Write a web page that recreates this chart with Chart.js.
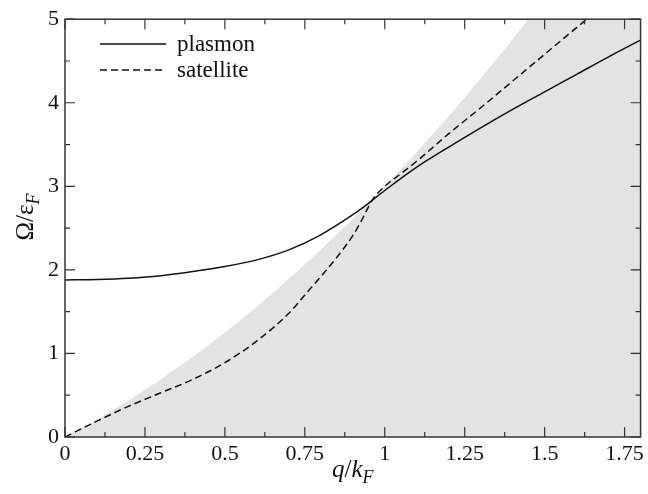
<!DOCTYPE html>
<html>
<head>
<meta charset="utf-8">
<script src="https://cdn.jsdelivr.net/npm/chart.js@4.4.1/dist/chart.umd.min.js"></script>
</head>
<body style="margin:0">
<div style="width:648px;height:494px"><canvas id="chart"></canvas></div>
<script>
// plasmon branch
var qPlasmon = [0, 0.1, 0.2, 0.3, 0.4, 0.5, 0.6, 0.7, 0.8, 0.9, 0.95, 1.0, 1.1, 1.2, 1.3, 1.4, 1.5, 1.6, 1.7, 1.8];
var plasmon  = [1.88, 1.885, 1.90, 1.93, 1.98, 2.04, 2.12, 2.24, 2.42, 2.66, 2.80, 2.95, 3.23, 3.47, 3.70, 3.92, 4.13, 4.34, 4.55, 4.75];

// satellite branch
var qSatellite = [0, 0.1, 0.2, 0.3, 0.4, 0.5, 0.6, 0.7, 0.75, 0.8, 0.85, 0.9, 0.93, 0.96, 1.0, 1.05, 1.1, 1.2, 1.3, 1.4, 1.5, 1.6, 1.7, 1.8];
var satellite  = [0, 0.19, 0.37, 0.53, 0.69, 0.89, 1.15, 1.48, 1.70, 1.92, 2.15, 2.41, 2.61, 2.83, 3.00, 3.15, 3.30, 3.63, 3.94, 4.26, 4.58, 4.90, 5.22, 5.54];

// upper edge of the shaded continuum
var qEdge = [0, 0.1, 0.2, 0.3, 0.4, 0.5, 0.6, 0.7, 0.8, 0.9, 1.0, 1.1, 1.2, 1.3, 1.4, 1.5, 1.6, 1.7, 1.8];
var edge  = [0, 0.21, 0.44, 0.69, 0.96, 1.25, 1.56, 1.89, 2.24, 2.61, 3.0, 3.41, 3.84, 4.29, 4.76, 5.25, 5.76, 6.29, 6.84];

var xTicks = [0, 0.25, 0.5, 0.75, 1, 1.25, 1.5, 1.75];
var yTicks = [0, 1, 2, 3, 4, 5];

function pts(xs, ys) {
  return xs.map(function(x, i) { return {x: x, y: ys[i]}; });
}

var serif = '"Liberation Serif", "Times New Roman", Times, serif';

var framePlugin = {
  id: 'frame',
  afterDraw: function(chart) {
    var ctx = chart.ctx;
    var a = chart.chartArea;
    var xs = chart.scales.x, ys = chart.scales.y;
    ctx.save();
    ctx.strokeStyle = '#333';
    ctx.lineWidth = 1.5;
    ctx.strokeRect(a.left, a.top, a.right - a.left, a.bottom - a.top);

    // inward ticks on all four sides
    ctx.lineWidth = 1.2;
    ctx.beginPath();
    for (var v = 0; v <= 1.8 + 1e-9; v += 0.125) {
      var px = xs.getPixelForValue(v);
      var len = (Math.abs(v / 0.25 - Math.round(v / 0.25)) < 1e-6) ? 10 : 5;
      ctx.moveTo(px, a.bottom); ctx.lineTo(px, a.bottom - len);
      ctx.moveTo(px, a.top); ctx.lineTo(px, a.top + len);
    }
    for (var w = 0; w <= 5 + 1e-9; w += 0.5) {
      var py = ys.getPixelForValue(w);
      var l2 = (Math.abs(w - Math.round(w)) < 1e-6) ? 10 : 5;
      ctx.moveTo(a.left, py); ctx.lineTo(a.left + l2, py);
      ctx.moveTo(a.right, py); ctx.lineTo(a.right - l2, py);
    }
    ctx.stroke();

    // legend
    ctx.strokeStyle = '#111';
    ctx.lineWidth = 1.5;
    ctx.beginPath();
    ctx.moveTo(100, 44); ctx.lineTo(166, 44);
    ctx.stroke();
    ctx.setLineDash([7, 4]);
    ctx.beginPath();
    ctx.moveTo(100, 70); ctx.lineTo(166, 70);
    ctx.stroke();
    ctx.setLineDash([]);
    ctx.fillStyle = '#111';
    ctx.font = '23px ' + serif;
    ctx.textAlign = 'left';
    ctx.textBaseline = 'alphabetic';
    ctx.fillText('plasmon', 177, 51);
    ctx.fillText('satellite', 177, 77);

    // x title: q/k_F
    var cx = (a.left + a.right) / 2;
    var base = 477;
    var parts = [
      ['q', 'italic 25px ' + serif, 0],
      ['/', '25px ' + serif, 0],
      ['k', 'italic 25px ' + serif, 0],
      ['F', 'italic 18px ' + serif, 6]
    ];
    var total = 0;
    parts.forEach(function(p) { ctx.font = p[1]; total += ctx.measureText(p[0]).width; });
    var x0 = cx - total / 2;
    parts.forEach(function(p) {
      ctx.font = p[1];
      ctx.fillText(p[0], x0, base + p[2]);
      x0 += ctx.measureText(p[0]).width;
    });

    // y title: Omega/epsilon_F
    ctx.translate(33, 217);
    ctx.rotate(-Math.PI / 2);
    var yparts = [
      ['\u03A9/\u03B5', '25px ' + serif, 0],
      ['F', 'italic 18px ' + serif, 6]
    ];
    total = 0;
    yparts.forEach(function(p) { ctx.font = p[1]; total += ctx.measureText(p[0]).width; });
    x0 = -total / 2;
    yparts.forEach(function(p) {
      ctx.font = p[1];
      ctx.fillText(p[0], x0, p[2]);
      x0 += ctx.measureText(p[0]).width;
    });
    ctx.restore();
  }
};

new Chart(document.getElementById('chart'), {
  type: 'line',
  data: {
    datasets: [{
      label: 'plasmon',
      data: pts(qPlasmon, plasmon),
      borderColor: '#111',
      borderWidth: 1.5,
      pointRadius: 0,
      fill: false,
      cubicInterpolationMode: 'monotone'
    }, {
      label: 'satellite',
      data: pts(qSatellite, satellite),
      borderColor: '#111',
      borderWidth: 1.5,
      borderDash: [7, 4],
      pointRadius: 0,
      fill: false,
      cubicInterpolationMode: 'monotone'
    }, {
      label: 'continuum',
      data: pts(qEdge, edge),
      borderWidth: 0,
      borderColor: 'rgba(0,0,0,0)',
      backgroundColor: '#e3e3e3',
      pointRadius: 0,
      fill: 'origin'
    }]
  },
  options: {
    responsive: true,
    maintainAspectRatio: false,
    animation: false,
    layout: { padding: { left: 0, right: 6, top: 14, bottom: 0 } },
    plugins: { legend: { display: false }, tooltip: { enabled: false } },
    scales: {
      x: {
        type: 'linear',
        min: 0, max: 1.8,
        grid: { display: false, drawTicks: false },
        border: { display: false },
        afterFit: function(s) { s.height = 57; },
        afterBuildTicks: function(s) { s.ticks = xTicks.map(function(v) { return {value: v}; }); },
        ticks: {
          padding: 4,
          color: '#111',
          font: { family: serif, size: 22 },
          maxRotation: 0,
          autoSkip: false,
          callback: function(v) { return String(v); }
        }
      },
      y: {
        type: 'linear',
        min: 0, max: 5,
        grid: { display: false, drawTicks: false },
        border: { display: false },
        afterFit: function(s) { s.width = 65; },
        afterBuildTicks: function(s) { s.ticks = yTicks.map(function(v) { return {value: v}; }); },
        ticks: {
          padding: 6,
          color: '#111',
          font: { family: serif, size: 22 },
          callback: function(v) { return String(v); }
        }
      }
    }
  },
  plugins: [framePlugin]
});
</script>
</body>
</html>
